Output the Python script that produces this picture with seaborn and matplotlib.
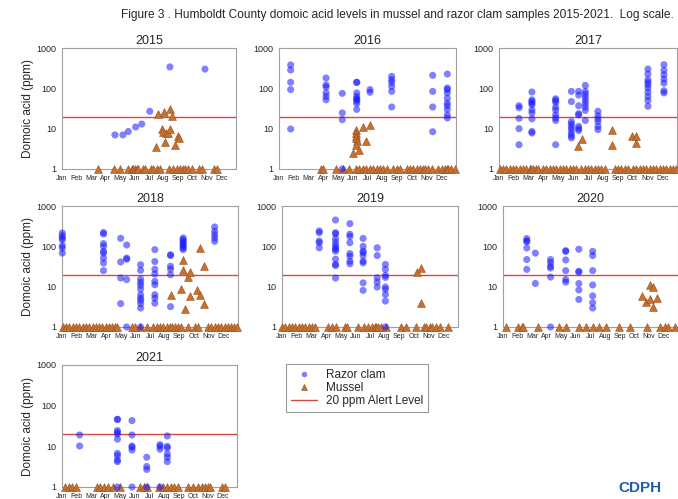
import numpy as np
import pandas as pd
import matplotlib
matplotlib.use("Agg")
import matplotlib.pyplot as plt
from matplotlib.lines import Line2D
import seaborn as sns

sns.set_style("white")
plt.rcParams["font.family"] = ["Liberation Sans", "DejaVu Sans"]

MONTHS = ["Jan", "Feb", "Mar", "Apr", "May", "Jun",
          "Jul", "Aug", "Sep", "Oct", "Nov", "Dec"]
YEARS = [2015, 2016, 2017, 2018, 2019, 2020, 2021]
ALERT_PPM = 20
ND_PPM = 1  # non-detects are plotted on the 1 ppm floor

# Razor clam: (month position, [ppm values sampled that day])
CLAM_2015 = [(3.65, [7]), (4.20, [7]), (4.57, [8.5]), (5.08, [11]), (5.50, [13]),
             (6.05, [27]), (7.44, [340]), (9.86, [300])]
CLAM_2016 = [(0.79, [380, 285, 141, 93, 9.8]),
             (3.19, [180, 121, 108, 77, 63, 52]),
             (4.29, [75, 24.5, 16.7, 1]),
             (5.27, [141, 141, 77, 63, 54, 54, 48, 42, 30]),
             (6.17, [93, 80]),
             (7.64, [198, 164, 141, 112, 84, 34.5]),
             (10.42, [210, 84, 34.5, 8.4]),
             (11.41, [226, 102, 93, 77, 57, 43, 37, 30, 22, 18.4])]
CLAM_2017 = [(1.35, [37, 33, 18, 10, 4]),
             (2.22, [81, 52, 47, 43, 39, 29, 24.5, 17.5, 8.5, 7.8]),
             (3.82, [55, 50, 45, 34, 29, 22, 18.4, 16, 4]),
             (4.88, [84, 47, 15, 13, 11, 9.5, 7.8, 6.7, 5.9]),
             (5.37, [84, 68, 37, 23.5, 22, 11.4, 10, 9]),
             (5.82, [118, 84, 72, 60, 50, 42, 34.5, 28.4, 16]),
             (6.67, [27, 21, 17.5, 15, 11.4, 9.5]),
             (10.04, [300, 226, 164, 141, 123, 102, 80, 63, 50, 36]),
             (11.12, [385, 280, 218, 170, 135, 87, 77])]
CLAM_2018 = [(0.02, [214, 184, 161, 146, 104, 91, 68]),
             (2.83, [220, 202, 117, 100, 75, 68, 51, 38.6, 25]),
             (4.00, [158, 41, 16.4, 3.8]),
             (4.41, [108, 51, 48, 15, 1]),
             (5.36, [35, 25.5, 15.5, 12.8, 10.8, 8.7, 6.3, 5.2, 4.6, 3.8, 2.95, 1]),
             (6.33, [83, 42, 27, 20.6, 13.5, 11.2, 6.3, 5.2, 3.9]),
             (7.40, [62, 59, 32, 27, 19.8, 3.2]),
             (8.26, [161, 146, 133, 121, 110, 100, 91, 83]),
             (10.41, [302, 236, 195, 161, 133])]
CLAM_2019 = [(2.54, [240, 218, 135, 123, 92]),
             (3.65, [450, 218, 205, 155, 127, 105, 92, 84, 76, 48, 35.6, 33.5, 16.4]),
             (4.63, [365, 200, 175, 123, 66, 57, 43, 37]),
             (5.53, [157, 100, 76, 70, 59, 43, 39, 12.4, 8.1]),
             (6.49, [92, 59, 16.7, 13, 9.8]),
             (7.05, [35.6, 26.9, 19, 17, 9.8, 8.6, 6.4, 4.4, 1])]
CLAM_2020 = [(1.63, [156, 136, 130, 91, 47, 26.8]),
             (2.22, [68, 12]),
             (3.26, [47, 40, 32, 29, 17.3, 1]),
             (4.30, [78, 75, 46, 25, 15, 13]),
             (5.20, [85, 24, 23, 12, 8.3, 4.8]),
             (6.15, [75, 59, 25, 11, 5.9, 4, 2.95])]
CLAM_2021 = [(1.21, [19, 10.2]),
             (3.80, [46, 46, 24.5, 22, 20, 15, 6.7, 5.9, 4.6, 4.2, 1]),
             (4.80, [43, 19, 10.2, 9.5, 8.1, 1]),
             (5.81, [5.4, 3.2, 2.7, 1]),
             (6.72, [11, 10, 8.5, 1]),
             (7.22, [18, 10, 9.1, 6.5, 5.4, 4.2])]

# Mussel detections: (month position, ppm)
MUSSEL_2015 = [(6.49, 3.5), (6.63, 23.7), (6.88, 9.8), (6.97, 8.5), (7.04, 25.5),
               (7.09, 4.8), (7.16, 8), (7.32, 7.8), (7.46, 10), (7.48, 30),
               (7.57, 21), (7.78, 4), (7.99, 6.7), (8.04, 5.8)]
MUSSEL_2016 = [(4.99, 2.5), (5.20, 9.4), (5.24, 7.8), (5.20, 6.7), (5.22, 5.9),
               (5.27, 5.0), (5.20, 3.9), (5.45, 2.9), (5.69, 11), (5.88, 5.0),
               (6.15, 12)]
MUSSEL_2017 = [(5.35, 3.65), (5.57, 5.5), (7.62, 9.5), (7.60, 3.9), (8.99, 6.5),
               (9.21, 6.5), (9.21, 4.4)]
MUSSEL_2018 = [(7.40, 6.3), (8.26, 46), (8.28, 26.5), (8.10, 8.7), (8.41, 2.8),
               (8.62, 17), (8.76, 22.6), (8.76, 5.8), (9.21, 8.1), (9.39, 6.3),
               (9.43, 89), (9.68, 32), (9.66, 3.7)]
MUSSEL_2019 = [(9.23, 23), (9.46, 29), (9.46, 4)]
MUSSEL_2020 = [(9.55, 6), (9.82, 4.2), (10.05, 11), (10.27, 10), (10.07, 5),
               (10.27, 3.2), (10.54, 5.3)]
MUSSEL_2021 = []

# Mussel non-detects (month positions)
MUSSEL_ND_2015 = [2.49, 3.58, 4.00, 4.57, 4.80, 4.92, 5.03, 5.15, 5.27, 5.61, 5.70,
                  6.12, 6.30, 6.54, 6.77, 7.39, 7.67, 7.90, 8.13, 8.36, 8.48, 8.71,
                  8.94, 9.47, 9.68, 10.51, 10.69]
MUSSEL_ND_2016 = [2.85, 3.01, 3.84, 4.36, 4.77, 5.22, 5.45, 5.67, 5.90, 6.17, 6.40,
                  6.62, 6.85, 7.07, 7.30, 7.75, 7.98, 8.20, 8.66, 8.88, 9.11, 9.33,
                  9.56, 9.74, 9.90, 10.12, 10.35, 10.80, 11.03, 11.25, 11.37, 11.48,
                  11.64, 11.93]
MUSSEL_ND_2017 = [0.04, 0.27, 0.49, 0.72, 0.94, 1.17, 1.39, 1.62, 1.84, 2.07, 2.18,
                  2.29, 2.47, 2.65, 2.97, 3.19, 3.42, 3.64, 3.87, 4.09, 4.31, 4.54,
                  4.76, 4.99, 5.21, 5.55, 5.78, 6.00, 6.22, 6.45, 6.67, 6.90, 7.12,
                  7.80, 8.02, 8.25, 8.47, 8.70, 9.03, 9.26, 9.48, 9.71, 9.93, 10.16,
                  10.38, 10.61, 10.83, 11.06, 11.28, 11.51, 11.73, 11.91]
MUSSEL_ND_2018 = [0.05, 0.27, 0.50, 0.72, 0.95, 1.18, 1.40, 1.63, 1.86, 2.08, 2.31,
                  2.53, 2.76, 2.99, 3.21, 3.44, 3.62, 3.73, 4.75, 4.98, 5.32, 5.77,
                  6.18, 6.45, 6.67, 6.90, 7.13, 7.35, 7.53, 7.69, 7.92, 8.14, 8.60,
                  9.05, 9.28, 9.95, 10.18, 10.41, 10.63, 10.86, 11.09, 11.31, 11.54,
                  11.76, 11.95]
MUSSEL_ND_2019 = [0.00, 0.23, 0.45, 0.68, 0.91, 1.13, 1.36, 1.59, 1.81, 2.04, 2.27,
                  3.17, 3.40, 3.67, 4.29, 4.40, 5.19, 5.60, 5.87, 6.17, 6.33, 6.44,
                  6.55, 6.78, 7.12, 8.10, 8.48, 9.16, 9.68, 9.84, 10.07, 10.25,
                  10.52, 10.75, 11.32]
MUSSEL_ND_2020 = [0.23, 1.06, 1.29, 1.40, 2.38, 3.85, 4.30, 5.20, 5.70, 6.15, 6.61,
                  7.06, 7.92, 8.69, 9.84, 10.77, 11.13, 11.29, 11.81]
MUSSEL_ND_2021 = [0.23, 0.46, 0.68, 0.98, 2.39, 2.62, 2.89, 3.12, 3.53, 3.99, 5.35,
                  5.63, 5.81, 6.67, 6.95, 7.18, 7.45, 7.67, 7.97, 8.66, 8.95, 9.34,
                  9.57, 9.79, 10.02, 10.14, 11.00, 11.16]

CLAMS = dict(zip(YEARS, [CLAM_2015, CLAM_2016, CLAM_2017, CLAM_2018,
                         CLAM_2019, CLAM_2020, CLAM_2021]))
MUSSELS = dict(zip(YEARS, [MUSSEL_2015, MUSSEL_2016, MUSSEL_2017, MUSSEL_2018,
                           MUSSEL_2019, MUSSEL_2020, MUSSEL_2021]))
MUSSELS_ND = dict(zip(YEARS, [MUSSEL_ND_2015, MUSSEL_ND_2016, MUSSEL_ND_2017,
                              MUSSEL_ND_2018, MUSSEL_ND_2019, MUSSEL_ND_2020,
                              MUSSEL_ND_2021]))

rows = []
for yr in YEARS:
    for m, vals in CLAMS[yr]:
        for v in vals:
            rows.append((yr, "Razor clam", m, v))
    for m, v in MUSSELS[yr]:
        rows.append((yr, "Mussel", m, v))
    for m in MUSSELS_ND[yr]:
        rows.append((yr, "Mussel", m, ND_PPM))
df = pd.DataFrame(rows, columns=["year", "species", "month", "ppm"])

CLAM_COLOR = "#1a1aff"
MUSSEL_COLOR = "#c8702f"
MUSSEL_EDGE = "#9a4f1a"
LINE_COLOR = "#d24a44"
SPINE_COLOR = "#a0a0a0"

W, H = 678, 499
# panel boxes in pixels: left, top, right, bottom
PANELS = {
    2015: (62, 48, 236, 169),
    2016: (279, 48, 456, 169),
    2017: (499, 48, 677, 169),
    2018: (62, 206, 238, 327),
    2019: (282, 206, 458, 327),
    2020: (503, 206, 678, 327),
    2021: (62, 365, 237, 487),
}

fig = plt.figure(figsize=(W / 100, H / 100), dpi=100)

for yr in YEARS:
    l, t, r, b = PANELS[yr]
    ax = fig.add_axes([l / W, 1 - b / H, (r - l) / W, (b - t) / H])
    sub = df[df["year"] == yr]
    mus = sub[sub["species"] == "Mussel"]
    clam = sub[sub["species"] == "Razor clam"]

    ax.axhline(ALERT_PPM, color=LINE_COLOR, lw=1, zorder=1)
    if len(mus):
        sns.scatterplot(data=mus, x="month", y="ppm", ax=ax, marker="^", s=32,
                        color=MUSSEL_COLOR, edgecolor=MUSSEL_EDGE, linewidth=0.4,
                        clip_on=False, legend=False, zorder=3)
    sns.scatterplot(data=clam, x="month", y="ppm", ax=ax, marker="o", s=26,
                    color=CLAM_COLOR, alpha=0.55, edgecolor="none",
                    clip_on=False, legend=False, zorder=4)

    ax.set_yscale("log")
    ax.set_ylim(1, 1000)
    ax.set_xlim(0, 12)
    ax.set_yticks([1, 10, 100, 1000], labels=["1", "10", "100", "1000"])
    ax.minorticks_off()
    ax.set_xticks(np.arange(12), labels=MONTHS)
    ax.tick_params(axis="x", length=0, labelsize=5, pad=4)
    ax.tick_params(axis="y", length=2, labelsize=6.5, pad=2, color=SPINE_COLOR)
    for sp in ax.spines.values():
        sp.set_color(SPINE_COLOR)
        sp.set_linewidth(0.8)
    ax.set_xlabel("")
    ax.set_ylabel("Domoic acid (ppm)" if l < 100 else "", fontsize=8.5,
                  labelpad=2)
    ax.set_title(str(yr), fontsize=9, pad=3)

fig.text(397 / W, 1 - 15 / H,
         "Figure 3 . Humboldt County domoic acid levels in mussel and razor clam "
         "samples 2015-2021.  Log scale.",
         ha="center", va="center", fontsize=8.6)

handles = [
    Line2D([], [], marker="o", ls="none", color=CLAM_COLOR, alpha=0.55,
           markeredgecolor="none", markersize=4),
    Line2D([], [], marker="^", ls="none", color=MUSSEL_COLOR,
           markeredgecolor=MUSSEL_EDGE, markeredgewidth=0.4, markersize=5),
    Line2D([], [], color=LINE_COLOR, lw=1),
]
leg = fig.legend(handles, ["Razor clam", "Mussel", "20 ppm Alert Level"],
                 loc="upper left", bbox_to_anchor=(286 / W, 1 - 364 / H),
                 fontsize=8.5, frameon=True, fancybox=False, handlelength=2.2,
                 handletextpad=0.8, labelspacing=0.1, borderpad=0.4,
                 borderaxespad=0)
leg.get_frame().set_edgecolor("#808080")
leg.get_frame().set_linewidth(0.8)

fig.text(640 / W, 1 - 488 / H, "CDPH", ha="center", va="center",
         fontsize=11, color="#1f5fa6", fontweight="bold")

fig.savefig("out.png", dpi=100)
